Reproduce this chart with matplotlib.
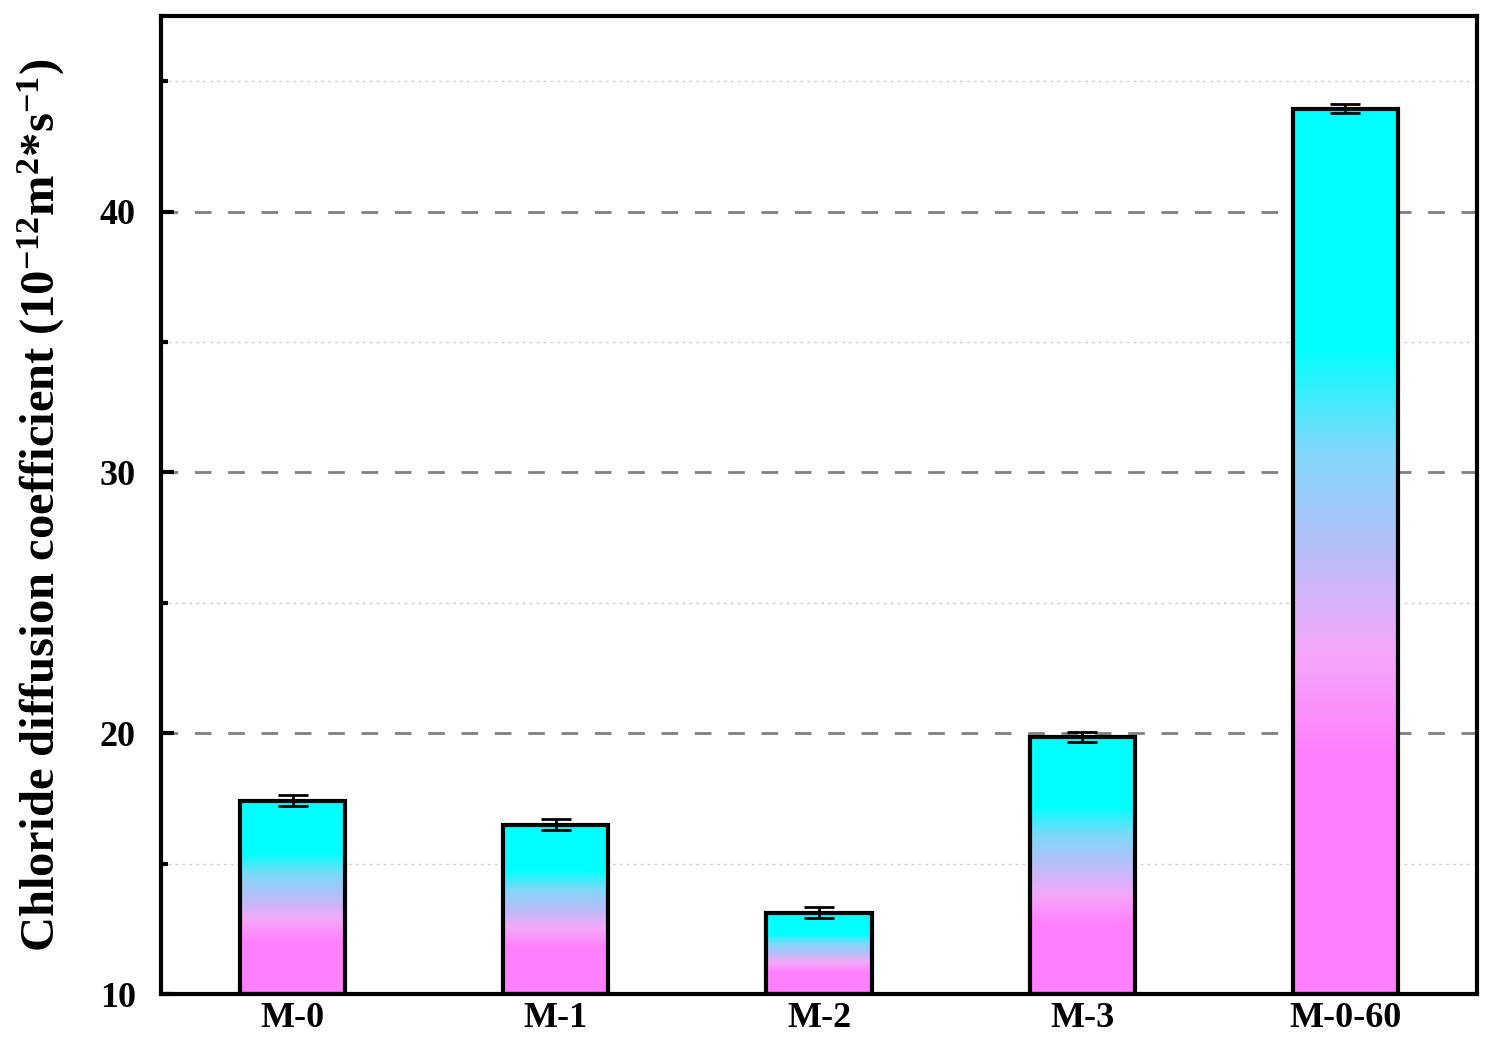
import numpy as np
import matplotlib.pyplot as plt
from matplotlib.colors import LinearSegmentedColormap

samples = ['M-0', 'M-1', 'M-2', 'M-3', 'M-0-60']
values = [17.42, 16.50, 13.12, 19.86, 43.95]
errors = [0.20, 0.20, 0.22, 0.20, 0.18]

plt.rcParams['font.family'] = ['Liberation Serif', 'DejaVu Serif']
plt.rcParams['font.weight'] = 'bold'
plt.rcParams['mathtext.fontset'] = 'custom'
plt.rcParams['mathtext.rm'] = 'Liberation Serif:bold'
plt.rcParams['mathtext.it'] = 'Liberation Serif:bold'
plt.rcParams['mathtext.bf'] = 'Liberation Serif:bold'

fig = plt.figure(figsize=(14.92, 10.5), dpi=100)
ax = fig.add_axes([0.1079, 0.0533, 0.882, 0.9315])

ymin, ymax = 10, 47.5
width = 0.4
x = np.arange(len(samples))

# pink at the bottom blending to cyan at the top of each bar
cmap = LinearSegmentedColormap.from_list('pc', ['#ff80ff', '#f4a8f8', '#b8bef8', '#80d8fa', '#00ffff'])
frac = np.linspace(0, 1, 256)
t = np.clip((frac - 0.27) / 0.46, 0, 1)
grad = t[:, None]

for xi, v in zip(x, values):
    ax.imshow(grad, cmap=cmap, vmin=0, vmax=1, aspect='auto', origin='lower',
              extent=[xi - width / 2, xi + width / 2, ymin, v], zorder=2, interpolation='bilinear')

ax.bar(x, np.array(values) - ymin, bottom=ymin, width=width, facecolor='none',
       edgecolor='black', linewidth=3, zorder=3)
ax.errorbar(x, values, yerr=errors, fmt='none', ecolor='black', elinewidth=2,
            capsize=11, capthick=2, zorder=4)

ax.set_xlim(-0.5, 4.5)
ax.set_ylim(ymin, ymax)
ax.set_xticks(x)
ax.set_xticklabels(samples)
ax.set_yticks([10, 20, 30, 40])
ax.set_yticks([15, 25, 35, 45], minor=True)

ax.grid(True, which='major', axis='y', linestyle=(0, (6, 6)), color='#808080', linewidth=2, zorder=0)
ax.grid(True, which='minor', axis='y', linestyle=(0, (2, 3)), color='#d0d0d0', linewidth=1, zorder=0)
ax.set_axisbelow(True)

ax.tick_params(axis='y', which='major', direction='in', length=9, width=3, labelsize=26, pad=18)
ax.tick_params(axis='y', which='minor', direction='in', length=5, width=3)
ax.tick_params(axis='x', which='both', length=0, labelsize=26, pad=6)
for s in ax.spines.values():
    s.set_linewidth(3)

ax.set_ylabel('Chloride diffusion coefficient (10$^{-12}$m$^{2}$*s$^{-1}$)', fontsize=35,
              fontweight='bold', labelpad=24)

fig.savefig('out.png', dpi=100)
